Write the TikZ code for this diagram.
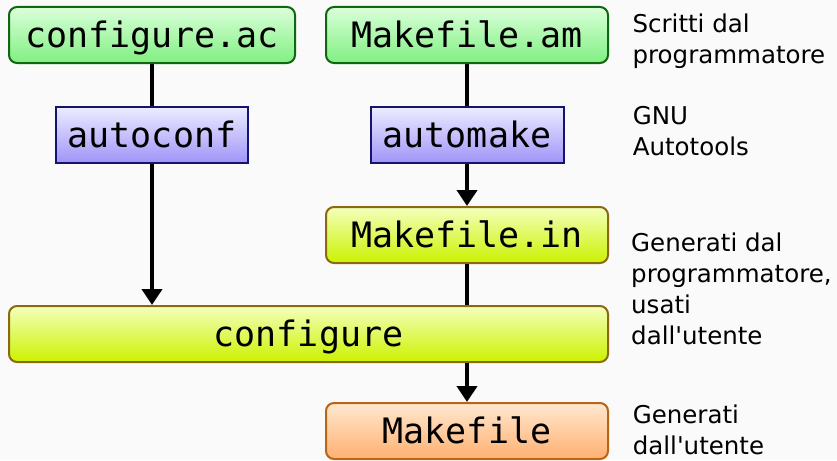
\documentclass[tikz,border=0pt]{standalone}
\usepackage{fontspec}
\setmainfont{DejaVu Sans}
\setmonofont{DejaVu Sans Mono}
\usetikzlibrary{arrows.meta}

\definecolor{bgcol}{HTML}{FAFAFA}
\definecolor{grnTop}{HTML}{DAFFDA}
\definecolor{grnBot}{HTML}{80F080}
\definecolor{grnLine}{HTML}{116611}
\definecolor{bluTop}{HTML}{ECECFF}
\definecolor{bluBot}{HTML}{A094F8}
\definecolor{bluLine}{HTML}{14146E}
\definecolor{ylwTop}{HTML}{F4FFBC}
\definecolor{ylwBot}{HTML}{CCF200}
\definecolor{ylwLine}{HTML}{8A6A10}
\definecolor{orgTop}{HTML}{FFE8D0}
\definecolor{orgBot}{HTML}{FFB070}
\definecolor{orgLine}{HTML}{B8651A}

\tikzset{
  filebox/.style={draw, line width=2pt, rounded corners=8pt, minimum height=56pt,
    inner sep=0pt, text height=25pt, text depth=0pt,
    font=\ttfamily\fontsize{35}{42}\selectfont, text=black},
  srcfile/.style={filebox, draw=grnLine, top color=grnTop, bottom color=grnBot},
  toolbox/.style={filebox, rounded corners=0pt, draw=bluLine, top color=bluTop, bottom color=bluBot},
  genfile/.style={filebox, draw=ylwLine, top color=ylwTop, bottom color=ylwBot},
  userfile/.style={filebox, draw=orgLine, top color=orgTop, bottom color=orgBot},
  note/.style={anchor=west, align=left, inner sep=0pt,
    font=\fontsize{24.5}{31}\selectfont, text=black},
  link/.style={line width=4pt, draw=black},
  flow/.style={link, -{Triangle[width=20pt,length=16pt]}}
}

\begin{document}
\begin{tikzpicture}[x=1pt, y=-1pt]
  % canvas
  \fill[bgcol] (0,0) rectangle (837,460);
  \useasboundingbox (0,0) rectangle (837,460);

  % files and tools
  \node[srcfile, minimum width=286pt] (confac) at (152,35) {configure.ac};
  \node[srcfile, minimum width=282pt] (mkam) at (467,35) {Makefile.am};
  \node[toolbox, minimum width=192pt] (autoconf) at (152,135) {autoconf};
  \node[toolbox, minimum width=193pt] (automake) at (467,135) {automake};
  \node[genfile, minimum width=282pt] (mkin) at (467,235) {Makefile.in};
  \node[genfile, minimum width=599pt] (configure) at (308.5,334) {configure};
  \node[userfile, minimum width=282pt] (mk) at (467,431) {Makefile};

  % connections
  \draw[link] (confac) -- (autoconf);
  \draw[flow] (autoconf.south) -- (autoconf.south |- configure.north);
  \draw[link] (mkam) -- (automake);
  \draw[flow] (automake) -- (mkin);
  \draw[link] (mkin.south) -- (mkin.south |- configure.north);
  \draw[flow] (mkin.south |- configure.south) -- (mk.north);

  % legend
  \node[note] (n1) at (632.4,40.8) {Scritti dal\\programmatore};
  \node[note] (n2) at (632.6,130.6) {GNU\\Autotools};
  \node[note] (n3) at (631,288.9) {Generati dal\\programmatore,\\usati\\dall\textquotesingle utente};
  \node[note] (n4) at (632.6,429.7) {Generati\\dall\textquotesingle utente};
\end{tikzpicture}
\end{document}
